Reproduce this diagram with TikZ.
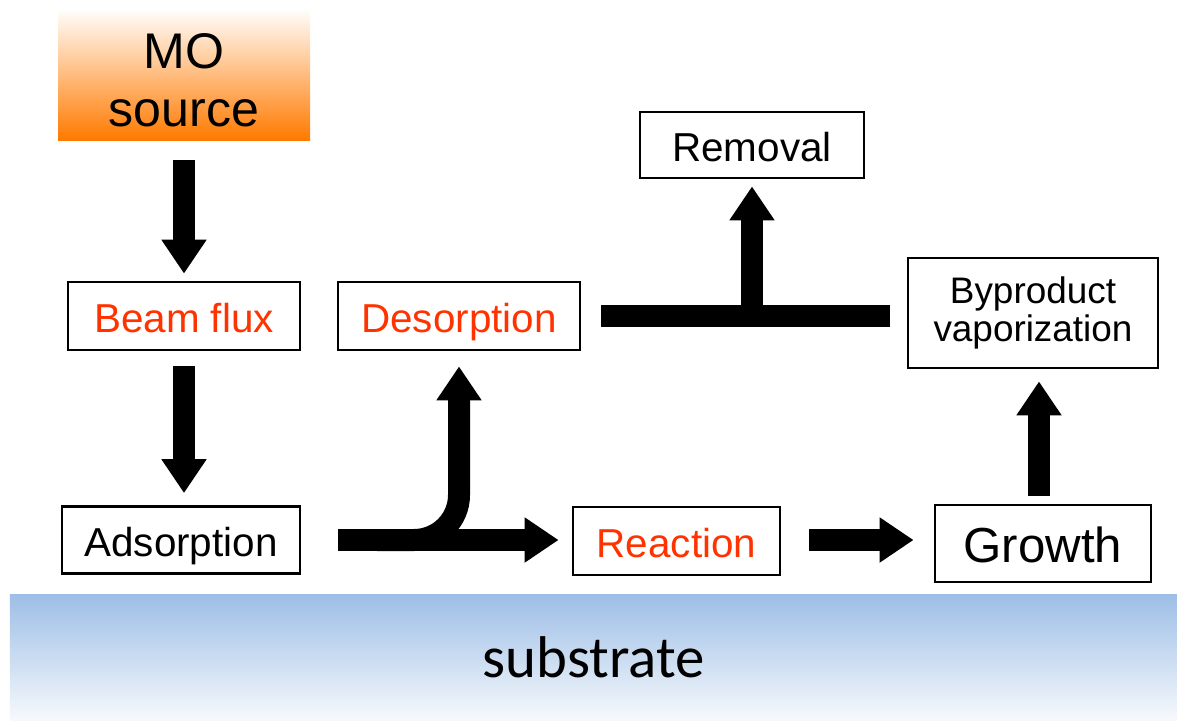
\documentclass[tikz,border=0pt]{standalone}
\usepackage{fontspec}
\setmainfont{Liberation Sans}
\newfontfamily\subfont{Carlito}
\definecolor{srcorange}{RGB}{255,122,0}
\definecolor{procred}{RGB}{255,51,0}
\definecolor{subblue}{RGB}{157,190,230}
\definecolor{subwhite}{RGB}{246,249,252}
\usetikzlibrary{arrows.meta,positioning,calc}

\begin{document}
\begin{tikzpicture}[
    procbox/.style={rectangle, draw=black, line width=1.6pt, inner sep=0pt, align=center,
                    font=\fontsize{23}{28}\selectfont},
    oneline/.style={text height=18.5pt, text depth=0pt},
    srcbox/.style={rectangle, top color=white, bottom color=srcorange, inner sep=0pt},
    fatarrow/.style={line width=0.44cm, -{Triangle[length=0.68cm, width=0.86cm]}},
    fatbar/.style={line width=0.44cm}
  ]
    \useasboundingbox (0,0) rectangle (23.54,-14.42);

    % Substrate
    \node[rectangle, top color=subblue, bottom color=subwhite, inner sep=0pt,
          minimum width=23.34cm, minimum height=2.52cm,
          font=\subfont\fontsize{33.5}{36}\selectfont] (sub) at (11.87,-13.14) {substrate};

    % Source
    \node[srcbox, minimum width=5.04cm, minimum height=2.64cm] (mo) at (3.68,-1.48) {};
    \node[align=center, inner sep=0pt, font=\fontsize{28.5}{33}\selectfont] (motext)
        at ([yshift=-0.13cm]mo.center) {MO\\source};

    % Process steps
    \node[procbox, oneline, text=procred, minimum width=4.64cm, minimum height=1.36cm] (beam) at (3.68,-6.32) {Beam flux};
    \node[procbox, oneline, minimum width=4.76cm, minimum height=1.34cm] (ads) at (3.62,-10.8) {Adsorption};
    \node[procbox, oneline, text=procred, minimum width=4.84cm, minimum height=1.36cm] (des) at (9.18,-6.32) {Desorption};
    \node[procbox, oneline, text=procred, minimum width=4.14cm, minimum height=1.36cm] (react) at (13.53,-10.82) {Reaction};
    \node[procbox, oneline, text height=22pt, font=\fontsize{28}{32}\selectfont, minimum width=4.32cm, minimum height=1.54cm] (growth) at (20.86,-10.87) {Growth};
    \node[procbox, font=\fontsize{21}{21.5}\selectfont, minimum width=5.0cm, minimum height=2.2cm] (byp) at (20.66,-6.26) {Byproduct\\vaporization};
    \node[procbox, oneline, minimum width=4.48cm, minimum height=1.32cm] (rem) at (15.04,-2.9) {Removal};

    % Vertical feed
    \draw[fatarrow, shorten <=0.4cm, shorten >=0.14cm] (mo) -- (beam);
    \draw[fatarrow, shorten <=0.3cm, shorten >=0.24cm] (beam.south) -- (beam.south |- ads.north);

    % Surface path
    \draw[fatarrow, shorten <=0.74cm, shorten >=0.26cm] (ads.east) -- (ads.east -| react.west);
    \coordinate (split) at (7.54,-10.8);
    \draw[fatarrow, rounded corners=0.9cm, shorten >=0.3cm] (split) -- (split -| des.south) -- (des.south);
    \draw[fatarrow, shorten <=0.56cm, shorten >=0.4cm] (react.east |- ads.east) -- (ads.east -| growth.west);
    \draw[fatarrow, shorten <=0.16cm, shorten >=0.24cm] ([xshift=-0.08cm]growth.north) -- ([xshift=-0.08cm]growth.north |- byp.south);

    % Removal of desorbed species and byproducts
    \draw[fatbar, shorten <=0.4cm, shorten >=0.34cm] (des.east) -- (des.east -| byp.west);
    \coordinate (junction) at (rem.south |- des.east);
    \draw[fatarrow, shorten <=-0.22cm, shorten >=0.14cm] (junction) -- (rem.south);
  \end{tikzpicture}
\end{document}
